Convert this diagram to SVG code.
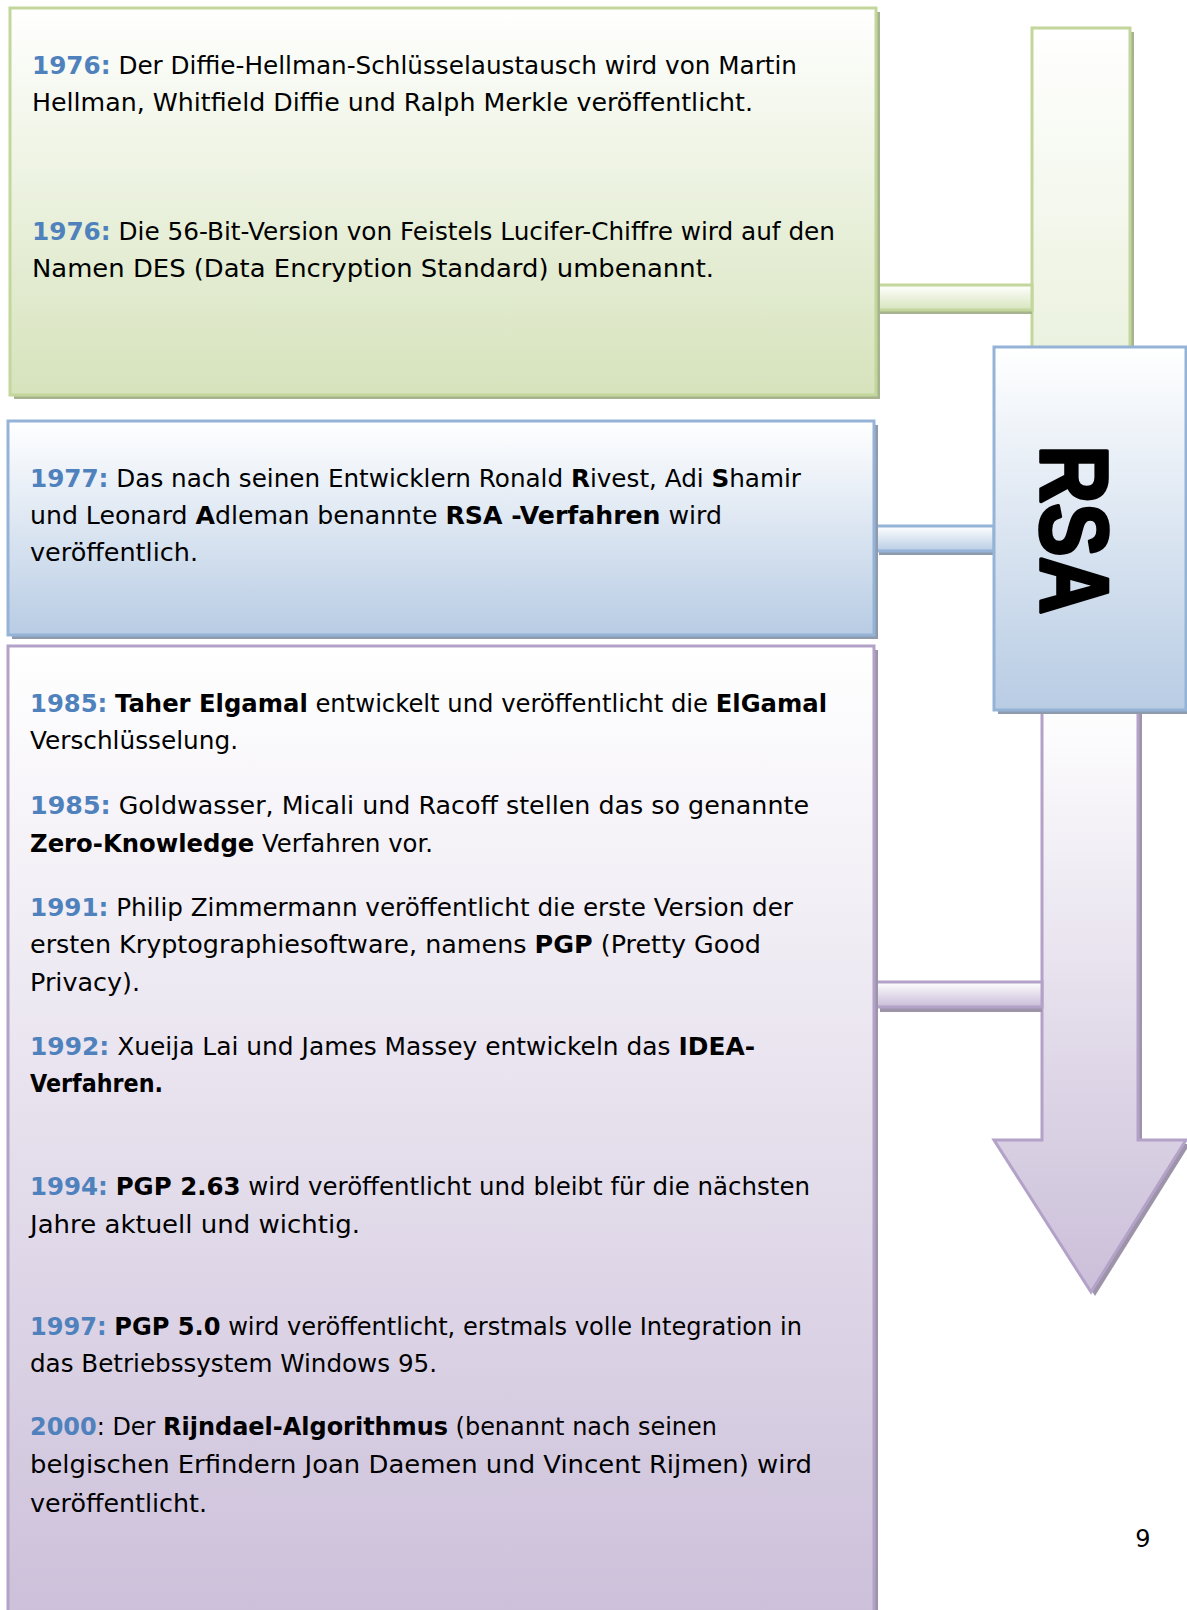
<svg xmlns="http://www.w3.org/2000/svg" width="1187" height="1610" viewBox="0 0 1187 1610">
<defs>
<linearGradient id="gGreen" x1="0" y1="0" x2="0" y2="1"><stop offset="0" stop-color="#ffffff"/><stop offset="1" stop-color="#d6e3bc"/></linearGradient>
<linearGradient id="gBlue" x1="0" y1="0" x2="0" y2="1"><stop offset="0" stop-color="#ffffff"/><stop offset="1" stop-color="#b8cce4"/></linearGradient>
<linearGradient id="gPurple" gradientUnits="userSpaceOnUse" x1="0" y1="646" x2="0" y2="1620"><stop offset="0" stop-color="#ffffff"/><stop offset="1" stop-color="#ccc0da"/></linearGradient>
<linearGradient id="gBar" gradientUnits="userSpaceOnUse" x1="0" y1="28" x2="0" y2="600"><stop offset="0" stop-color="#ffffff"/><stop offset="1" stop-color="#dce7c6"/></linearGradient>
<linearGradient id="gArrow" gradientUnits="userSpaceOnUse" x1="0" y1="700" x2="0" y2="1292"><stop offset="0" stop-color="#ffffff"/><stop offset="1" stop-color="#cbbfd9"/></linearGradient>
<linearGradient id="cGreen" x1="0" y1="0" x2="0" y2="1"><stop offset="0" stop-color="#ffffff"/><stop offset="1" stop-color="#d7e4bd"/></linearGradient>
<linearGradient id="cBlue" x1="0" y1="0" x2="0" y2="1"><stop offset="0" stop-color="#ffffff"/><stop offset="1" stop-color="#b9cde5"/></linearGradient>
<linearGradient id="cPurple" x1="0" y1="0" x2="0" y2="1"><stop offset="0" stop-color="#ffffff"/><stop offset="1" stop-color="#c9bcd8"/></linearGradient>
</defs>
<style>
.t{font-family:"DejaVu Sans","Liberation Sans",sans-serif;font-size:24px;fill:#000}
.y{fill:#4f81bd;font-weight:bold}
.b{font-weight:bold}
.sg{fill:#a7b28f}
.sb{fill:#8e9bad}
.sp{fill:#9d94aa}
.green{stroke:#c3d69b;stroke-width:3}
.blue{stroke:#95b3d7;stroke-width:3}
.purple{stroke:#b3a2c7;stroke-width:3}
</style>
<rect width="1187" height="1610" fill="#ffffff"/>

<g id="timeline-bar">
<rect x="1036" y="32" width="98" height="330" class="sg"/>
<rect x="1032" y="28" width="98" height="330" fill="url(#gBar)" class="green"/>
</g>

<g id="arrow">
<path d="M1046,704 L1142,704 L1142,1144 L1190,1144 L1095,1296 L998,1144 L1046,1144 Z" class="sp"/>
<path d="M1042,700 L1138,700 L1138,1140 L1186,1140 L1091,1292 L994,1140 L1042,1140 Z" fill="url(#gArrow)" class="purple"/>
</g>

<g id="connectors">
<rect x="880" y="289" width="152" height="25" class="sg"/>
<rect x="876" y="285" width="156" height="25" fill="url(#cGreen)" class="green"/>
<rect x="879" y="530" width="115" height="25" class="sb"/>
<rect x="875" y="526" width="119" height="25" fill="url(#cBlue)" class="blue"/>
<rect x="880" y="987" width="162" height="25" class="sp"/>
<rect x="876" y="982" width="166" height="25" fill="url(#cPurple)" class="purple"/>
</g>

<g id="box-1976">
<rect x="14" y="12" width="866" height="387" class="sg"/>
<rect x="10" y="8" width="866" height="387" fill="url(#gGreen)" class="green"/>
<text class="t" x="32" y="74" textLength="765" lengthAdjust="spacingAndGlyphs"><tspan class="y">1976:</tspan> Der Diffie-Hellman-Schlüsselaustausch wird von Martin</text>
<text class="t" x="32" y="111" textLength="721" lengthAdjust="spacingAndGlyphs">Hellman, Whitfield Diffie und Ralph Merkle veröffentlicht.</text>
<text class="t" x="32" y="240" textLength="803" lengthAdjust="spacingAndGlyphs"><tspan class="y">1976:</tspan> Die 56-Bit-Version von Feistels Lucifer-Chiffre wird auf den</text>
<text class="t" x="32" y="277" textLength="682" lengthAdjust="spacingAndGlyphs">Namen DES (Data Encryption Standard) umbenannt.</text>
</g>

<g id="box-1977">
<rect x="12" y="425" width="866" height="214" class="sb"/>
<rect x="8" y="421" width="866" height="214" fill="url(#gBlue)" class="blue"/>
<text class="t" x="30" y="487" textLength="771" lengthAdjust="spacingAndGlyphs"><tspan class="y">1977:</tspan> Das nach seinen Entwicklern Ronald <tspan class="b">R</tspan>ivest, Adi <tspan class="b">S</tspan>hamir</text>
<text class="t" x="30" y="524" textLength="692" lengthAdjust="spacingAndGlyphs">und Leonard <tspan class="b">A</tspan>dleman benannte <tspan class="b">RSA -Verfahren</tspan> wird</text>
<text class="t" x="30" y="561" textLength="168" lengthAdjust="spacingAndGlyphs">veröffentlich.</text>
</g>

<g id="box-1985-2000">
<rect x="12" y="650" width="866" height="1000" class="sp"/>
<rect x="8" y="646" width="866" height="1000" fill="url(#gPurple)" class="purple"/>
<text class="t" x="30" y="712" textLength="797" lengthAdjust="spacingAndGlyphs"><tspan class="y">1985:</tspan> <tspan class="b">Taher Elgamal</tspan> entwickelt und veröffentlicht die <tspan class="b">ElGamal</tspan></text>
<text class="t" x="30" y="749" textLength="208" lengthAdjust="spacingAndGlyphs">Verschlüsselung.</text>
<text class="t" x="30" y="814" textLength="779" lengthAdjust="spacingAndGlyphs"><tspan class="y">1985:</tspan> Goldwasser, Micali und Racoff stellen das so genannte</text>
<text class="t" x="30" y="852" textLength="403" lengthAdjust="spacingAndGlyphs"><tspan class="b">Zero-Knowledge</tspan> Verfahren vor.</text>
<text class="t" x="30" y="916" textLength="763" lengthAdjust="spacingAndGlyphs"><tspan class="y">1991:</tspan> Philip Zimmermann veröffentlicht die erste Version der</text>
<text class="t" x="30" y="953" textLength="731" lengthAdjust="spacingAndGlyphs">ersten Kryptographiesoftware, namens <tspan class="b">PGP</tspan> (Pretty Good</text>
<text class="t" x="30" y="991" textLength="110" lengthAdjust="spacingAndGlyphs">Privacy).</text>
<text class="t" x="30" y="1055" textLength="725" lengthAdjust="spacingAndGlyphs"><tspan class="y">1992:</tspan> Xueija Lai und James Massey entwickeln das <tspan class="b">IDEA-</tspan></text>
<text class="t b" x="30" y="1092" textLength="133" lengthAdjust="spacingAndGlyphs">Verfahren.</text>
<text class="t" x="30" y="1195" textLength="780" lengthAdjust="spacingAndGlyphs"><tspan class="y">1994:</tspan> <tspan class="b">PGP 2.63</tspan> wird veröffentlicht und bleibt für die nächsten</text>
<text class="t" x="30" y="1233" textLength="330" lengthAdjust="spacingAndGlyphs">Jahre aktuell und wichtig.</text>
<text class="t" x="30" y="1335" textLength="772" lengthAdjust="spacingAndGlyphs"><tspan class="y">1997:</tspan> <tspan class="b">PGP 5.0</tspan> wird veröffentlicht, erstmals volle Integration in</text>
<text class="t" x="30" y="1372" textLength="407" lengthAdjust="spacingAndGlyphs">das Betriebssystem Windows 95.</text>
<text class="t" x="30" y="1435" textLength="687" lengthAdjust="spacingAndGlyphs"><tspan class="y">2000</tspan>: Der <tspan class="b">Rijndael-Algorithmus</tspan> (benannt nach seinen</text>
<text class="t" x="30" y="1473" textLength="782" lengthAdjust="spacingAndGlyphs">belgischen Erfindern Joan Daemen und Vincent Rijmen) wird</text>
<text class="t" x="30" y="1512" textLength="177" lengthAdjust="spacingAndGlyphs">veröffentlicht.</text>
</g>

<g id="rsa">
<rect x="998" y="351" width="192" height="363" class="sb"/>
<rect x="994" y="347" width="192" height="363" fill="url(#gBlue)" class="blue"/>
<text transform="translate(1041,530) rotate(90) scale(1,1.2)" x="0" y="0" text-anchor="middle" font-family="'Liberation Sans',Arial,sans-serif" font-weight="bold" font-size="80" fill="#000" stroke="#000" stroke-width="3" stroke-linejoin="round">RSA</text>
</g>

<text class="t" x="1143" y="1547" text-anchor="middle">9</text>
</svg>
